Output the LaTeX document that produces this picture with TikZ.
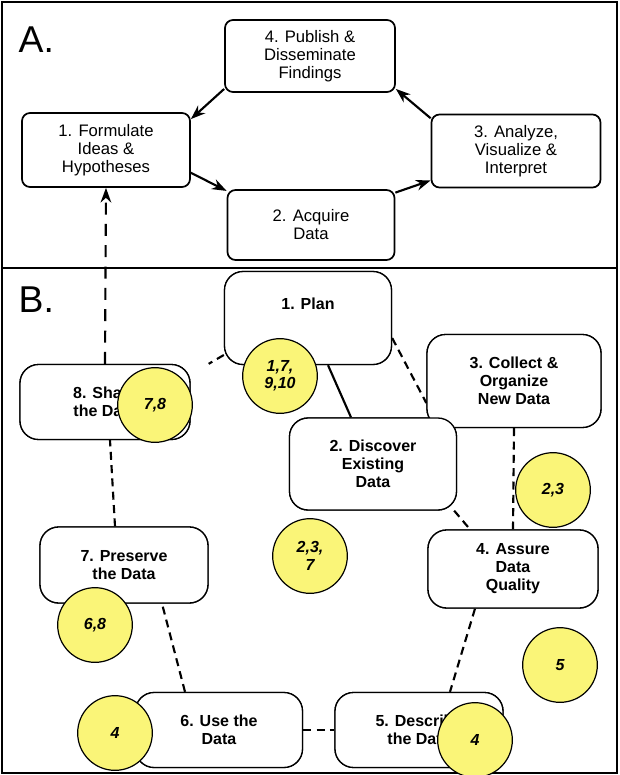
\documentclass[tikz,border=0pt]{standalone}
\usepackage{fontspec}
\setmainfont{Liberation Sans}
\usetikzlibrary{arrows.meta}
\definecolor{yel}{RGB}{250,245,120}
\tikzset{
 abox/.style 2 args={draw,line width=1.3pt,rounded corners=6pt,fill=white,align=center,font=\fontsize{12.5}{13.5}\selectfont,minimum width=#1*0.75pt,minimum height=#2*0.75pt,inner sep=0pt},
 bbox/.style 2 args={draw,line width=1pt,rounded corners=14pt,fill=white,align=center,font=\bfseries\fontsize{12}{13.5}\selectfont,minimum width=#1*0.75pt,minimum height=#2*0.75pt,inner sep=0pt},
 btxt/.style={align=center,font=\bfseries\fontsize{12}{13.5}\selectfont,inner sep=0pt},
 circ/.style={circle,draw,line width=0.9pt,fill=yel,minimum size=56pt,inner sep=0pt,align=center,font=\bfseries\itshape\fontsize{12}{13}\selectfont},
 arr/.style={line width=1.6pt,-{Stealth[length=11pt,width=8pt]}},
 dsh/.style={line width=1.6pt,dash pattern=on 6pt off 4pt},
 sol/.style={line width=1.6pt}}
\begin{document}
\begin{tikzpicture}[x=0.75pt,y=-0.75pt]
\useasboundingbox (0,0) rectangle (619,775);
\draw[line width=1.3pt] (2,2) rectangle (617,268);
\draw[line width=1.3pt] (2,268) rectangle (617,773);
\node[font=\fontsize{28}{30}\selectfont,anchor=west] (la) at (14,40) {A.};
\node[font=\fontsize{28}{30}\selectfont,anchor=west] (lb) at (14,300) {B.};
% A
\node[abox={170}{72}] (pub) at (310,56) {4. Publish \&\\Disseminate\\Findings};
\node[abox={168}{74}] (form) at (106,150) {1. Formulate\\Ideas \&\\Hypotheses};
\node[abox={169}{73}] (ana) at (516,151) {3. Analyze,\\Visualize \&\\Interpret};
\node[abox={167}{70}] (acq) at (311,225) {2. Acquire\\Data};
\draw[arr] (form.-15) -- (acq.158);
\draw[arr] (acq.21) -- (ana.199);
\draw[arr] (ana.159) -- (pub.-21);
\draw[arr] (pub.201) -- (form.20);
% B nodes (for names)
\node[bbox={167}{93}] (plan) at (308,318) {};
\node[bbox={174}{93}] (coll) at (514,381) {};
\node[bbox={167}{92}] (disc) at (373,464) {};
\node[bbox={170}{75}] (share) at (105,402) {};
\node[bbox={170}{78}] (assu) at (513,569) {};
\node[bbox={168}{76}] (pres) at (124,565) {};
\node[bbox={167}{75}] (use) at (219,730) {};
\node[bbox={168}{75}] (desc) at (419,730) {};
\draw[arr,dash pattern=on 9pt off 7pt] (share.north) -- (form.south);
\draw[dsh] ([yshift=-20*0.75pt]plan.east) -- ([yshift=-22*0.75pt]coll.west);
\draw[sol] ([xshift=20*0.75pt]plan.south) -- ([xshift=-22*0.75pt]disc.north);
\draw[dsh] ([yshift=-37*0.75pt]plan.west) -- ([xshift=18*0.75pt]share.north east);
\draw[dsh] (coll.south) -- (assu.north);
\draw[dsh] ([xshift=-3*0.75pt]disc.south east) -- ([xshift=-43*0.75pt]assu.north);
\draw[dsh] ([xshift=-38*0.75pt]assu.south) -- ([xshift=31*0.75pt]desc.north);
\draw[dsh] (use.east) -- (desc.west);
\draw[dsh] ([xshift=-34*0.75pt]use.north) -- ([xshift=38*0.75pt]pres.south);
\draw[dsh] ([xshift=-9*0.75pt]pres.north) -- ([xshift=5*0.75pt]share.south);
% boxes with text over the lines
\node[bbox={167}{93}] at (308,318) {};
\node[btxt] (plant) at (308,304) {1. Plan};
\node[bbox={174}{93}] (collt) at (514,381) {3. Collect \&\\Organize\\New Data};
\node[bbox={167}{92}] (disct) at (373,464) {2. Discover\\Existing\\Data};
\node[bbox={170}{75}] (sharet) at (105,402) {8. Share\\the Data};
\node[bbox={170}{78}] (assut) at (513,569) {4. Assure\\Data\\Quality};
\node[bbox={168}{76}] (prest) at (124,565) {7. Preserve\\the Data};
\node[bbox={167}{75}] (uset) at (219,730) {6. Use the\\Data};
\node[bbox={168}{75}] (desct) at (419,730) {5. Describe\\the Data};
% circles
\node[circ] (c1) at (280,376) {1,7,\\9,10};
\node[circ] (c3) at (553,490) {2,3};
\node[circ] (c2) at (310,556) {2,3,\\7};
\node[circ] (c8) at (155,405) {7,8};
\node[circ] (c4) at (560,665) {5};
\node[circ] (c7) at (95,625) {6,8};
\node[circ] (c6) at (115,733) {4};
\node[circ] (c5) at (475,740) {4};
\end{tikzpicture}
\end{document}
